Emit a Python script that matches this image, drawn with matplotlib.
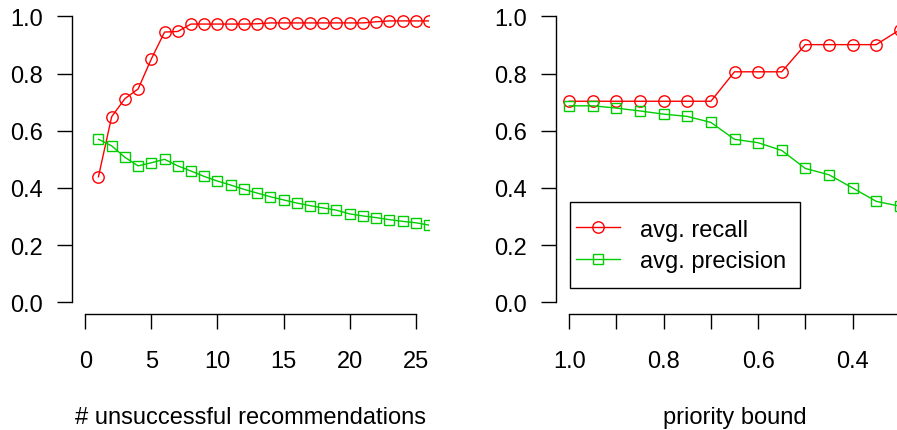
import matplotlib
matplotlib.use("Agg")
import matplotlib.pyplot as plt
from matplotlib.patches import Rectangle

plt.rcParams.update({
    "font.family": ["Liberation Sans", "DejaVu Sans"],
    "font.size": 17,
})

# left panel: number of unsuccessful recommendations
n_unsucc = list(range(1, 27))
recall_n = [0.439, 0.649, 0.712, 0.746, 0.851, 0.945, 0.947, 0.973, 0.973, 0.973,
            0.973, 0.973, 0.974, 0.977, 0.977, 0.977, 0.977, 0.977, 0.977, 0.977,
            0.977, 0.981, 0.984, 0.984, 0.984, 0.984]
precision_n = [0.570, 0.547, 0.507, 0.477, 0.488, 0.500, 0.477, 0.459, 0.440, 0.424,
               0.410, 0.395, 0.382, 0.369, 0.358, 0.347, 0.338, 0.330, 0.322, 0.309,
               0.302, 0.296, 0.289, 0.283, 0.278, 0.270]

# right panel: priority bound
bound = [1.0, 0.95, 0.9, 0.85, 0.8, 0.75, 0.7, 0.65, 0.6, 0.55, 0.5, 0.45, 0.4, 0.35, 0.3]
recall_b = [0.703, 0.703, 0.703, 0.703, 0.703, 0.703, 0.703, 0.806, 0.806, 0.806,
            0.901, 0.901, 0.901, 0.901, 0.953]
precision_b = [0.687, 0.687, 0.679, 0.669, 0.658, 0.650, 0.629, 0.570, 0.558, 0.531,
               0.468, 0.446, 0.400, 0.353, 0.336]

y_ticks = [0.0, 0.2, 0.4, 0.6, 0.8, 1.0]
RED = "#FF0000"
GREEN = "#00CD00"

W, H = 897, 431
fig = plt.figure(figsize=(W / 100, H / 100), dpi=100)
ax1 = fig.add_axes([72 / W, 1 - 314.7 / H, 357 / W, 308.8 / H])
ax2 = fig.add_axes([556 / W, 1 - 314.7 / H, 357 / W, 308.8 / H])


def style(ax, xb):
    for s in ("top", "right"):
        ax.spines[s].set_visible(False)
    ax.spines["left"].set_bounds(0, 1)
    ax.spines["bottom"].set_bounds(*xb)
    for s in ("left", "bottom"):
        ax.spines[s].set_linewidth(1.0)
    ax.set_yticks(y_ticks)
    ax.set_yticklabels([f"{v:.1f}" for v in y_ticks])
    ax.tick_params(length=10.8, width=1.0)
    ax.tick_params(axis="y", pad=10)
    ax.tick_params(axis="x", pad=15)
    ax.set_ylim(-0.04, 1.04)


kw = dict(lw=1.0, markerfacecolor="none", markeredgewidth=1.0)
ax1.plot(n_unsucc, recall_n, color=RED, marker="o", ms=8.2, **kw)
ax1.plot(n_unsucc, precision_n, color=GREEN, marker="s", ms=7.2, **kw)
ax1.set_xlim(-1, 26)
ax1.set_xticks([0, 5, 10, 15, 20, 25])
style(ax1, (0, 25))
ax1.set_xlabel("# unsuccessful recommendations", labelpad=25)

l1, = ax2.plot(bound, recall_b, color=RED, marker="o", ms=8.2, **kw)
l2, = ax2.plot(bound, precision_b, color=GREEN, marker="s", ms=7.2, **kw)
ax2.set_xlim(1.028, 0.272)
xt = [1.0, 0.9, 0.8, 0.7, 0.6, 0.5, 0.4, 0.3]
ax2.set_xticks(xt)
ax2.set_xticklabels(["1.0", "", "0.8", "", "0.6", "", "0.4", ""])
style(ax2, (1.0, 0.3))
ax2.set_xlabel("priority bound", labelpad=25)

# legend box drawn separately so its size matches the original
fig.patches.append(Rectangle((570 / W, 1 - 289 / H), 230 / W, 86 / H,
                             transform=fig.transFigure, facecolor="white",
                             edgecolor="black", lw=1.0, zorder=5))
leg = fig.legend([l1, l2], ["avg. recall", "avg. precision"],
                 loc="center left", bbox_to_anchor=(576 / W, 1 - 246.3 / H),
                 bbox_transform=fig.transFigure, borderaxespad=0, borderpad=0,
                 frameon=False, handlelength=1.86, handletextpad=0.85,
                 labelspacing=0.4, fontsize=17)
leg.set_zorder(6)

fig.savefig("out.png", dpi=100)
